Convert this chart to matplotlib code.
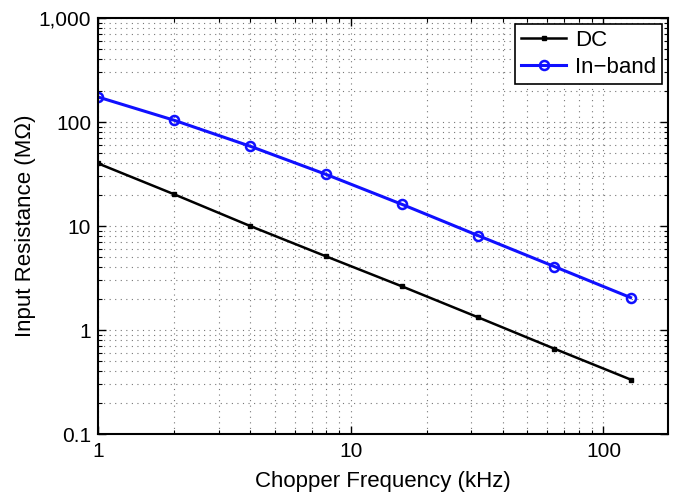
import matplotlib.pyplot as plt
from matplotlib.ticker import FixedLocator, FixedFormatter, LogLocator, NullFormatter

plt.rcParams['font.family'] = ['Liberation Sans', 'DejaVu Sans']

# chopper frequency (kHz) and input resistance (MOhm)
freq = [1, 2, 4, 8, 16, 32, 64, 128]
r_dc = [40, 20.2, 10, 5.1, 2.62, 1.32, 0.66, 0.334]
r_inband = [174, 104, 58.5, 31.3, 16.1, 8.07, 4.07, 2.05]

x_ticks = [1, 10, 100]
x_labels = ['1', '10', '100']
y_ticks = [0.1, 1, 10, 100, 1000]
y_labels = ['0.1', '1', '10', '100', '1,000']

fig = plt.figure(figsize=(6.79, 4.96), dpi=100)
ax = fig.add_axes([0.1443, 0.125, 0.8395, 0.8387])

ax.loglog(freq, r_dc, color='black', lw=1.8, marker='s', ms=3,
          mfc='black', label='DC')
ax.loglog(freq, r_inband, color='#1010ff', lw=2.2, marker='o', ms=6.5,
          mfc='none', mew=1.8, label='In\u2212band')

ax.set_xlim(1, 180)
ax.set_ylim(0.1, 1000)

ax.xaxis.set_major_locator(FixedLocator(x_ticks))
ax.xaxis.set_major_formatter(FixedFormatter(x_labels))
ax.yaxis.set_major_locator(FixedLocator(y_ticks))
ax.yaxis.set_major_formatter(FixedFormatter(y_labels))
for axis in (ax.xaxis, ax.yaxis):
    axis.set_minor_locator(LogLocator(base=10, subs=range(2, 10), numticks=20))
    axis.set_minor_formatter(NullFormatter())

ax.grid(True, which='both', linestyle=(0, (1, 4)), color='#777777', lw=0.8)
ax.tick_params(which='both', direction='in', top=True, right=True,
               labelsize=15)
ax.tick_params(axis='y', pad=5)
ax.tick_params(axis='x', pad=6)
ax.tick_params(which='major', length=6, width=1)
ax.tick_params(which='minor', length=3, width=0.8)
for s in ax.spines.values():
    s.set_linewidth(1.5)

ax.set_xlabel('Chopper Frequency (kHz)', fontsize=16, labelpad=7)
ax.set_ylabel('Input Resistance (M\u03a9)', fontsize=16, labelpad=2)

leg = ax.legend(loc='upper right', fontsize=16, fancybox=False,
                framealpha=1, edgecolor='black', borderaxespad=0.25,
                handlelength=2.0, handletextpad=0.4, borderpad=0.3,
                labelspacing=0.25)
leg.get_frame().set_linewidth(1.2)

fig.savefig('out.png', dpi=100)
